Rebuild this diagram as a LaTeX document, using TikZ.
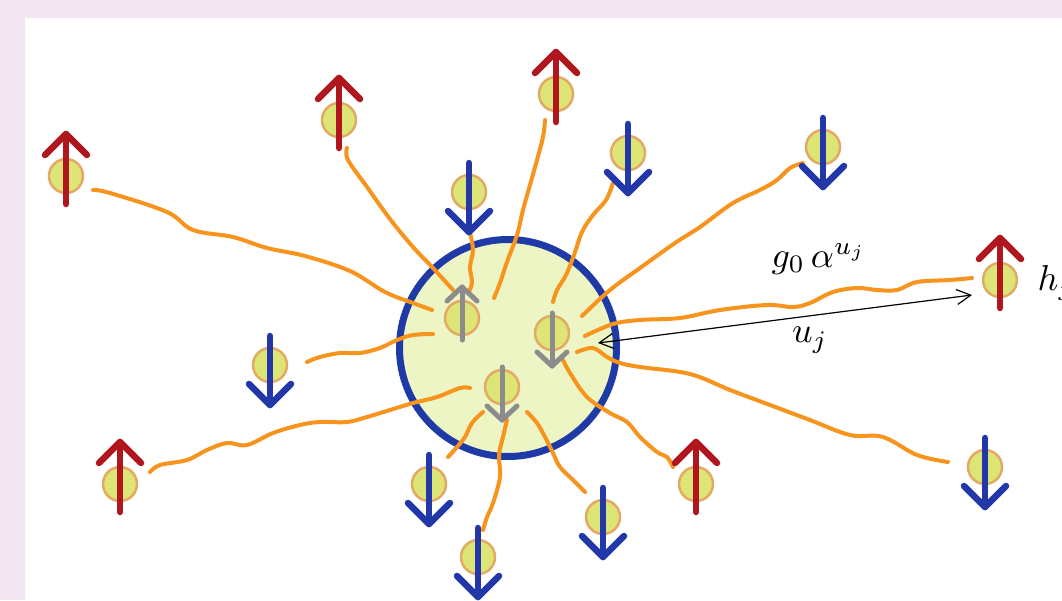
\documentclass[tikz,border=0pt]{standalone}
\usetikzlibrary{arrows.meta}
\definecolor{lav}{RGB}{241,230,242}
\definecolor{spinred}{RGB}{176,22,30}
\definecolor{spinblue}{RGB}{34,56,168}
\definecolor{coregray}{RGB}{140,140,140}
\definecolor{spinfill}{RGB}{221,229,119}
\definecolor{spinedge}{RGB}{226,170,100}
\definecolor{wavecol}{RGB}{247,148,30}
\definecolor{corefill}{RGB}{238,245,196}
\definecolor{coreedge}{RGB}{30,58,166}
\newcommand\spinUp[3]{%
  \node[spin] (#1) at (#2,#3) {};
  \draw[redarrow] (#2,#3+28) -- (#2,#3-42);
  \draw[redarrow] (#2-21,#3-21) -- (#2,#3-42) -- (#2+21,#3-21);}
\newcommand\spinDown[3]{%
  \node[spin] (#1) at (#2,#3) {};
  \draw[bluearrow] (#2,#3-29) -- (#2,#3+40);
  \draw[bluearrow] (#2-21,#3+19) -- (#2,#3+40) -- (#2+21,#3+19);}
\newcommand\coreUp[3]{%
  \node[spin] (#1) at (#2,#3) {};
  \draw[grayarrow] (#2,#3+22) -- (#2,#3-31);
  \draw[grayarrow] (#2-15,#3-17) -- (#2,#3-31) -- (#2+15,#3-17);}
\newcommand\coreDown[3]{%
  \node[spin] (#1) at (#2,#3) {};
  \draw[grayarrow] (#2,#3-20) -- (#2,#3+33);
  \draw[grayarrow] (#2-15,#3+19) -- (#2,#3+33) -- (#2+15,#3+19);}
\begin{document}
\begin{tikzpicture}[x=1pt,y=-1pt,
  spin/.style={circle,draw=spinedge,fill=spinfill,line width=2.5pt,minimum size=34pt,inner sep=0pt},
  wave/.style={draw=wavecol,line width=4pt,line cap=round,line join=round},
  redarrow/.style={draw=spinred,line width=6.5pt,line cap=round,line join=round},
  bluearrow/.style={draw=spinblue,line width=6.5pt,line cap=round,line join=round},
  grayarrow/.style={draw=coregray,line width=5pt,line cap=round,line join=round},
  lbl/.style={inner sep=0pt,scale=3.6},
  measure/.style={draw=black,line width=1.2pt,{Straight Barb[length=14pt,width=15pt]}-{Straight Barb[length=14pt,width=15pt]}}]
\useasboundingbox (0,0) rectangle (1062,600);
\fill[lav] (0,0) rectangle (1062,600);
\fill[white] (25,18) rectangle (1062,600);
% central cluster
\node[circle,draw=coreedge,fill=corefill,line width=7pt,minimum size=217pt,inner sep=0pt] (core) at (508,348) {};
% wavy couplings
\draw[wave] plot[smooth,tension=0.6] coordinates {(93,190) (110,193) (167,212) (193,230) (233,237) (267,248) (305,256) (350,271) (385,292) (413,303) (432,310)};
\draw[wave] plot[smooth,tension=0.6] coordinates {(347,148) (348,160) (367,187) (390,219) (413,247) (433,268) (453,290)};
\draw[wave] plot[smooth,tension=0.6] coordinates {(470,233) (473,250) (470,267) (472,283) (468,293)};
\draw[wave] plot[smooth,tension=0.6] coordinates {(545,120) (543,137) (537,160) (530,185) (523,210) (517,235) (507,262) (500,283) (494,298)};
\draw[wave] plot[smooth,tension=0.6] coordinates {(613,183) (606,200) (593,215) (582,232) (574,255) (566,275) (557,290) (553,302)};
\draw[wave] plot[smooth,tension=0.6] coordinates {(803,163) (790,168) (777,180) (760,190) (733,203) (700,227) (675,243) (640,268) (610,290) (582,316)};
\draw[wave] plot[smooth,tension=0.6] coordinates {(972,278) (950,280) (917,282) (897,290) (877,290) (857,288) (833,292) (810,303) (793,307) (767,305) (720,310) (680,318) (640,320) (613,324) (585,336)};
\draw[wave] plot[smooth,tension=0.6] coordinates {(577,352) (593,348) (607,357) (620,363) (640,367) (690,374) (730,390) (770,405) (810,420) (850,435) (883,437) (917,455) (948,462)};
\draw[wave] plot[smooth,tension=0.6] coordinates {(563,360) (570,373) (587,397) (610,413) (627,422) (640,437) (657,452) (667,457) (673,467)};
\draw[wave] plot[smooth,tension=0.6] coordinates {(527,412) (537,423) (545,437) (553,453) (560,467) (573,480) (585,492)};
\draw[wave] plot[smooth,tension=0.6] coordinates {(507,420) (503,437) (499,455) (500,477) (493,503) (487,517) (483,530)};
\draw[wave] plot[smooth,tension=0.6] coordinates {(483,412) (472,423) (465,437) (457,447) (448,457)};
\draw[wave] plot[smooth,tension=0.6] coordinates {(150,472) (160,465) (187,460) (207,450) (227,443) (247,445) (273,433) (300,425) (320,422) (347,422) (367,417) (390,410) (413,403) (437,397) (460,388) (470,388)};
\draw[wave] plot[smooth,tension=0.6] coordinates {(307,362) (320,357) (340,353) (360,353) (380,348) (397,340) (413,335) (433,334)};
% core spins
\coreUp{ca}{462}{318}
\coreDown{cb}{552}{333}
\coreDown{cc}{502}{387}
% outer spins
\spinUp{s1}{66}{176}
\spinUp{s2}{339}{120}
\spinUp{s3}{556}{94}
\spinDown{s4}{628}{153}
\spinDown{s5}{823}{147}
\spinDown{s6}{469}{192}
\spinUp{s7}{1000}{280}
\spinDown{s8}{270}{365}
\spinUp{s9}{120}{484}
\spinDown{s10}{429}{484}
\spinDown{s11}{478}{557}
\spinDown{s12}{603}{517}
\spinUp{s13}{696}{484}
\spinDown{s14}{985}{467}
% distance arrow and labels
\coordinate (ua) at (598,343);
\coordinate (ub) at (972,295);
\draw[measure] (ua) -- (ub);
\node[lbl] (coupling) at (819,259) {$g_0\,\alpha^{u_j}$};
\node[lbl] (dist) at (810,340) {$u_j$};
\node[lbl,anchor=west] (field) at (1037,283) {$h_j$};
\end{tikzpicture}
\end{document}
